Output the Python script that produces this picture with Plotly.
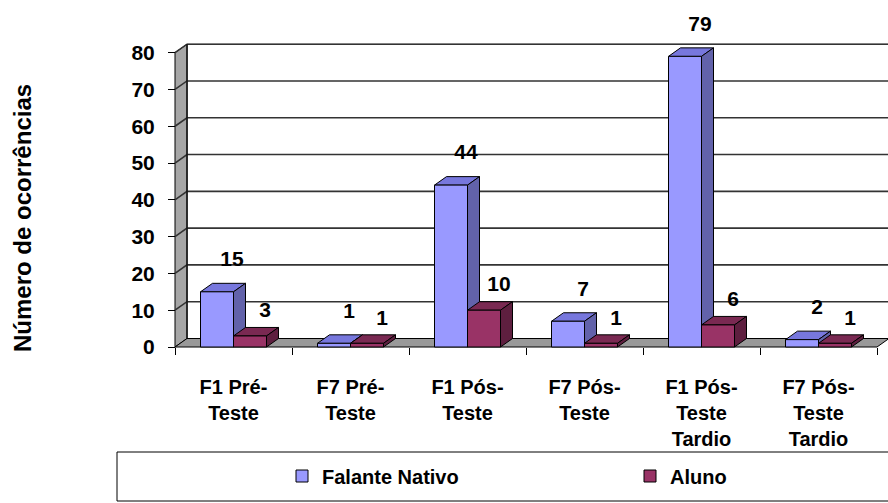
import plotly.graph_objects as go

# ---- data ----------------------------------------------------------------
categories = [
    "F1 Pré-<br>Teste",
    "F7 Pré-<br>Teste",
    "F1 Pós-<br>Teste",
    "F7 Pós-<br>Teste",
    "F1 Pós-<br>Teste<br>Tardio",
    "F7 Pós-<br>Teste<br>Tardio",
]
falante_nativo = [15, 1, 44, 7, 79, 2]
aluno = [3, 1, 10, 1, 6, 1]
y_ticks = [0, 10, 20, 30, 40, 50, 60, 70, 80]
series_names = ["Falante Nativo", "Aluno"]

# ---- page geometry (pixels) ---------------------------------------------
W, H = 888, 503
PLOT_L, PLOT_R, PLOT_T, PLOT_B = 160, 888, 20, 352
AX_X, AX_Y = 175, 347          # front corner of the chart box
PX_X, PX_Y = 117.0, 3.679      # pixels per category / per unit
DEPTH_PX_X, DEPTH_PX_Y = 12, 8.5

DX = DEPTH_PX_X / PX_X
DY = DEPTH_PX_Y / PX_Y
BAR_W = 33 / PX_X
LABEL_SHIFT = 15 / PX_X
Y_TOP = y_ticks[-1]

x_range = [-0.5 - (AX_X - PLOT_L) / PX_X, -0.5 + (PLOT_R - AX_X) / PX_X]
y_range = [-(PLOT_B - AX_Y) / PX_Y, (AX_Y - PLOT_T) / PX_Y]


def paper_x(px):
    return (px - PLOT_L) / (PLOT_R - PLOT_L)


def paper_y(py):
    return (PLOT_B - py) / (PLOT_B - PLOT_T)


FONT = "Liberation Sans, Arial, sans-serif"
n = len(categories)
xs = list(range(n))
x_first, x_last = -0.5, n - 0.5

series = [
    dict(name=series_names[0], values=falante_nativo, offset=-BAR_W,
         front="#9999ff", top="#7777dd", side="#6262aa",
         label_lift=12 / PX_Y, legend="legend", legend_px=282),
    dict(name=series_names[1], values=aluno, offset=0.0,
         front="#993366", top="#7a2952", side="#5e1f3f",
         label_lift=5 / PX_Y, legend="legend2", legend_px=630),
]

shapes = []
line_k = dict(color="black", width=1)

# back wall
shapes.append(dict(type="rect", xref="x", yref="y", layer="below",
                   x0=x_first + DX, x1=x_last + DX, y0=DY, y1=Y_TOP + DY,
                   fillcolor="white", line=dict(color="#7f7f7f", width=1)))
# left side wall
shapes.append(dict(type="path", xref="x", yref="y", layer="below",
                   path=f"M{x_first},0 L{x_first},{Y_TOP} L{x_first + DX},{Y_TOP + DY} "
                        f"L{x_first + DX},{DY} Z",
                   fillcolor="#a6a6a6", line=line_k))
# floor
shapes.append(dict(type="path", xref="x", yref="y", layer="below",
                   path=f"M{x_first},0 L{x_last},0 L{x_last + DX},{DY} L{x_first + DX},{DY} Z",
                   fillcolor="#999999", line=line_k))
# gridlines: diagonal across the side wall, then along the back wall
for v in y_ticks[1:]:
    shapes.append(dict(type="path", xref="x", yref="y", layer="below",
                       path=f"M{x_first},{v} L{x_first + DX},{v + DY} L{x_last + DX},{v + DY}",
                       line=dict(color="#333333", width=1.6)))
# back-left edge of the box
shapes.append(dict(type="line", xref="x", yref="y", layer="below",
                   x0=x_first + DX, x1=x_first + DX, y0=DY, y1=Y_TOP + DY, line=line_k))

# top and side faces of each bar (drawn below the bar fronts)
for s in series:
    for i, v in enumerate(s["values"]):
        x0 = i + s["offset"]
        x1 = x0 + BAR_W
        shapes.append(dict(type="path", xref="x", yref="y", layer="below",
                           path=f"M{x0},{v} L{x1},{v} L{x1 + DX},{v + DY} L{x0 + DX},{v + DY} Z",
                           fillcolor=s["top"], line=line_k))
        shapes.append(dict(type="path", xref="x", yref="y", layer="below",
                           path=f"M{x1},0 L{x1},{v} L{x1 + DX},{v + DY} L{x1 + DX},{DY} Z",
                           fillcolor=s["side"], line=line_k))

# legend frame
shapes.append(dict(type="rect", xref="paper", yref="paper",
                   x0=paper_x(117), x1=paper_x(892), y0=paper_y(501), y1=paper_y(452),
                   fillcolor="rgba(0,0,0,0)", line=dict(color="black", width=1)))

fig = go.Figure()
for s in series:
    fig.add_trace(go.Bar(
        x=xs, y=s["values"], name=s["name"], width=BAR_W, offset=s["offset"],
        marker=dict(color=s["front"], line=dict(color="black", width=1)),
        legend=s["legend"], hoverinfo="skip",
    ))
for s in series:
    fig.add_trace(go.Scatter(
        x=[i + s["offset"] + BAR_W / 2 + LABEL_SHIFT for i in xs],
        y=[v + DY + s["label_lift"] for v in s["values"]],
        text=[str(v) for v in s["values"]],
        mode="text", textposition="top center",
        textfont=dict(family=FONT, size=21, color="black", weight="bold"),
        showlegend=False, cliponaxis=False, hoverinfo="skip",
    ))

legend_style = dict(orientation="h", xanchor="left", y=paper_y(476), yanchor="middle",
                    bgcolor="rgba(0,0,0,0)", borderwidth=0, itemwidth=30,
                    font=dict(family=FONT, size=20, color="black", weight="bold"))

fig.update_layout(
    width=W, height=H,
    margin=dict(l=PLOT_L, r=W - PLOT_R, t=PLOT_T, b=H - PLOT_B, pad=0),
    paper_bgcolor="white", plot_bgcolor="white",
    barmode="overlay",
    font=dict(family=FONT, size=21, color="black", weight="bold"),
    shapes=shapes,
    showlegend=True,
    legend=dict(x=paper_x(series[0]["legend_px"]), **legend_style),
    legend2=dict(x=paper_x(series[1]["legend_px"]), **legend_style),
    xaxis=dict(range=x_range, anchor="free", position=(PLOT_B - AX_Y) / (PLOT_B - PLOT_T),
               tickmode="array", tickvals=xs, ticktext=categories,
               ticks="", showgrid=False, zeroline=False, showline=False,
               ticklabelstandoff=26,
               tickfont=dict(family=FONT, size=20, color="black", weight="bold"),
               minor=dict(tickmode="array", tickvals=[i - 0.5 for i in range(n + 1)],
                          ticks="outside", ticklen=7, tickcolor="black", tickwidth=1,
                          showgrid=False)),
    yaxis=dict(range=y_range, anchor="free", position=(AX_X - PLOT_L) / (PLOT_R - PLOT_L),
               tickmode="array", tickvals=y_ticks,
               ticks="outside", ticklen=7, tickcolor="black", tickwidth=1,
               ticklabelstandoff=9,
               showgrid=False, zeroline=False, showline=False,
               tickfont=dict(family=FONT, size=21, color="black", weight="bold")),
    annotations=[dict(text="Número de ocorrências", textangle=-90,
                      xref="paper", yref="paper", x=paper_x(22), y=paper_y(218),
                      xanchor="center", yanchor="middle", showarrow=False,
                      font=dict(family=FONT, size=24, color="black", weight="bold"))],
)

fig.write_html("out.html")
